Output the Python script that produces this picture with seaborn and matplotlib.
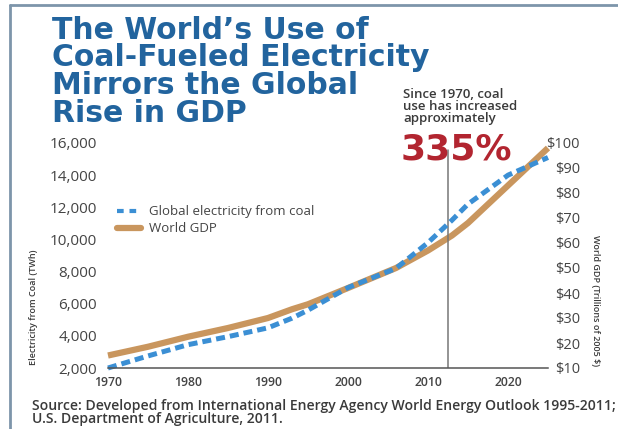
import matplotlib
matplotlib.use("Agg")
import matplotlib.pyplot as plt
import matplotlib.lines as mlines
import seaborn as sns
import pandas as pd

# values
years = [1970, 1975, 1980, 1985, 1990, 1993, 1995, 2000, 2006, 2010, 2013, 2015, 2020, 2025]
coal_twh = [2000, 2750, 3450, 3950, 4500, 5100, 5600, 7000, 8200, 9800, 11200, 12200, 14000, 15100]
gdp_trillions = [15, 18.5, 22.5, 26, 30, 33.5, 35.5, 42, 50, 57, 63, 68, 83, 98]

x_ticks = [1970, 1980, 1990, 2000, 2010, 2020]
x_minor = [2012.5, 2015]
left_ticks = [2000, 4000, 6000, 8000, 10000, 12000, 14000, 16000]
right_ticks = [10, 20, 30, 40, 50, 60, 70, 80, 90, 100]
marker_year = 2012.5

title_lines = ["The World\u2019s Use of", "Coal-Fueled Electricity",
               "Mirrors the Global", "Rise in GDP"]
note_lines = ["Since 1970, coal", "use has increased", "approximately"]
source_lines = ["Source: Developed from International Energy Agency World Energy Outlook 1995-2011;",
                "U.S. Department of Agriculture, 2011."]

BLUE = "#3b8fd4"
TAN = "#c9965e"
TITLE = "#22649e"
RED = "#b22530"
GREY = "#3a3a3a"

sns.set_style("white")
plt.rcParams['font.family'] = ['Open Sans', 'DejaVu Sans']

W, H = 618, 429


def fx(x):
    return x / W


def fy(y):
    return 1 - y / H


df = pd.DataFrame({"year": years, "coal": coal_twh, "gdp": gdp_trillions})

fig = plt.figure(figsize=(W / 100, H / 100), dpi=100)
ax = fig.add_axes([fx(108), fy(368), fx(548) - fx(108), fy(143) - fy(368)])
ax2 = ax.twinx()

sns.lineplot(data=df, x="year", y="gdp", ax=ax2, color=TAN, linewidth=4.5,
             solid_capstyle="butt", clip_on=False)
sns.lineplot(data=df, x="year", y="coal", ax=ax, color=BLUE, linewidth=3.6,
             clip_on=False)
ax.lines[0].set_dashes([1.8, 1.0])
ax.set_zorder(ax2.get_zorder() + 1)
ax.patch.set_visible(False)

ax.set_xlim(1970, 2025)
ax.set_ylim(2000, 16000)
ax2.set_ylim(10, 100)

# marker line for the 335% note
ax.axvline(marker_year, ymin=0, ymax=0.97, color="#777777", lw=1.1, zorder=0)

ax.set_xticks(x_ticks)
ax.set_xticks(x_minor, minor=True)
ax.set_xticklabels([str(t) for t in x_ticks], fontsize=8.8, fontweight="semibold", color="#444444")
ax.tick_params(axis="x", which="both", direction="inout", length=8, width=1.1, color="#555555", pad=2)

ax.set_yticks(left_ticks)
ax.set_yticklabels([f"{t:,}" for t in left_ticks], fontsize=11, color="#444444")
ax.tick_params(axis="y", length=0, pad=8)

ax2.set_yticks(right_ticks)
ax2.set_yticklabels([f"${t}" for t in right_ticks], fontsize=10.5, color="#444444", ha="right")
ax2.tick_params(axis="y", length=0, pad=23)

for a in (ax, ax2):
    for side in ("left", "right", "top", "bottom"):
        a.spines[side].set_visible(False)
ax.spines["bottom"].set_visible(True)
ax.spines["bottom"].set_color("#555555")
ax.spines["bottom"].set_linewidth(1.1)

ax.set_xlabel("")
ax.set_ylabel("Electricity from Coal (TWh)", fontsize=6.5, fontweight="semibold", color=GREY)
ax.yaxis.set_label_coords((38 - 108) / (548 - 108), 0.27)
ax2.set_ylabel("World GDP (Trillions of 2005 $)", fontsize=6.5, fontweight="semibold",
               color=GREY, rotation=270)
ax2.yaxis.set_label_coords((600 - 108) / (548 - 108), 0.3)

# legend
h1 = mlines.Line2D([], [], color=BLUE, lw=3, dashes=[1.6, 1.4])
h2 = mlines.Line2D([], [], color=TAN, lw=4.5)
ax.legend([h1, h2], ["Global electricity from coal", "World GDP"], frameon=False,
          loc="upper left", bbox_to_anchor=((112 - 108) / 440, (368 - 200) / 225),
          fontsize=9.5, handlelength=1.8, handletextpad=0.6, labelspacing=0.3,
          labelcolor="#444444", borderaxespad=0)

# title
for i, line in enumerate(title_lines):
    fig.text(fx(52), fy(39 + i * 27.5), line, fontsize=21.5, fontweight="bold",
             color=TITLE, va="baseline", ha="left", family="DejaVu Sans")

for i, line in enumerate(note_lines):
    fig.text(fx(403), fy(98 + i * 12), line, fontsize=9.5, fontweight="semibold",
             color=GREY, va="baseline", ha="left")
fig.text(fx(401), fy(160), "335%", fontsize=26, fontweight="bold", color=RED,
         va="baseline", ha="left", family="DejaVu Sans")

for i, line in enumerate(source_lines):
    fig.text(fx(32), fy(410 + i * 13), line, fontsize=10.1, fontweight="semibold",
             color=GREY, va="baseline", ha="left")

# frame
fig.add_artist(mlines.Line2D([fx(10), fx(10)], [fy(5), 0], color="#7d95aa", lw=2))
fig.add_artist(mlines.Line2D([fx(10), 1], [fy(5), fy(5)], color="#7d95aa", lw=2))

fig.savefig("out.png", dpi=100)
